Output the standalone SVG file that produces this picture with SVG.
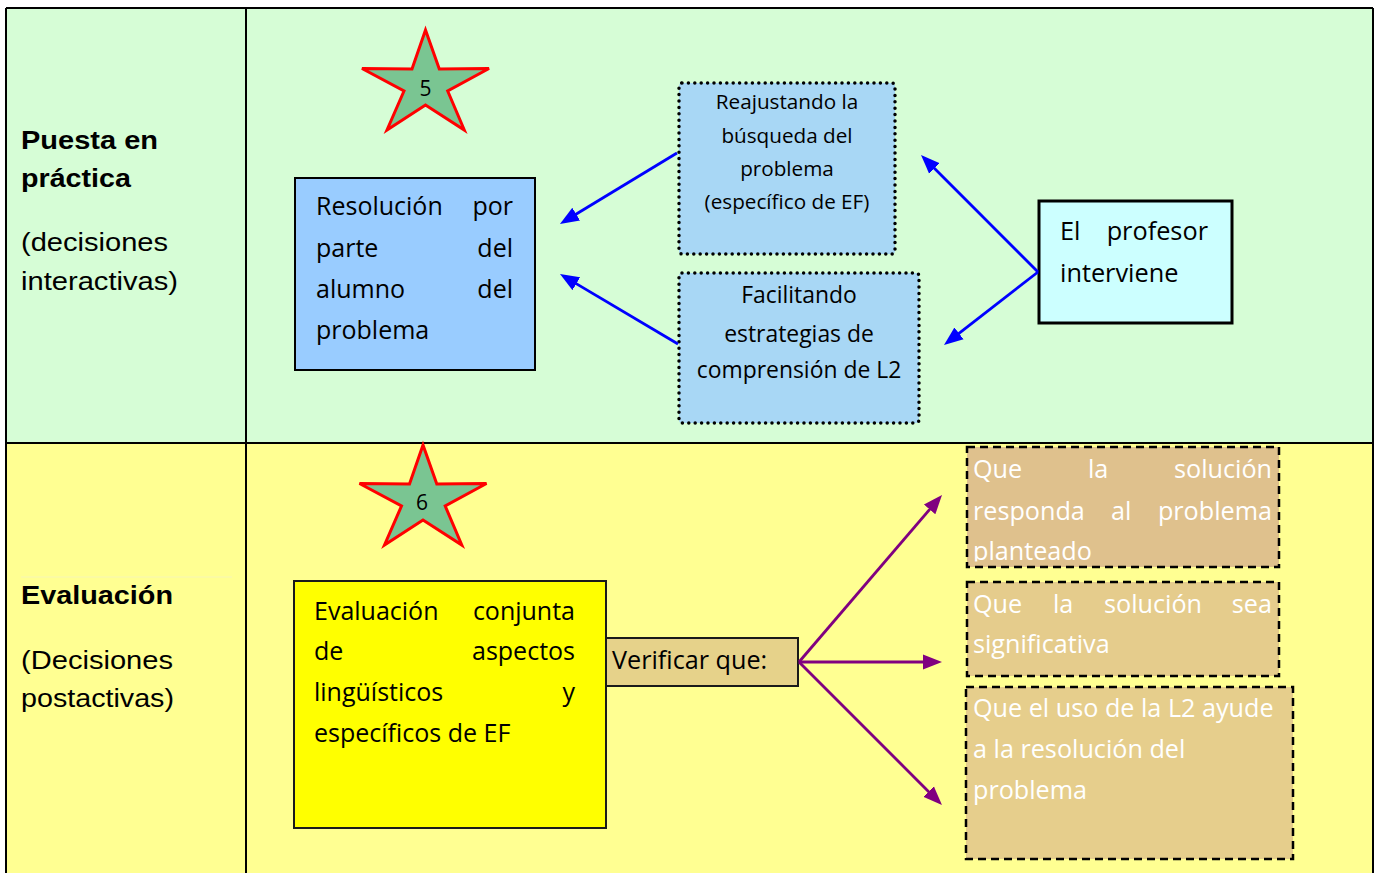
<svg xmlns="http://www.w3.org/2000/svg" width="1374" height="873" viewBox="0 0 1374 873">
<style>
.lbl{font-family:"Liberation Sans",Arial,sans-serif;font-size:26px;fill:#000}
.b{font-weight:bold}
.t{font-family:"Open Sans","Noto Sans",sans-serif;fill:#000}
.w{fill:#FFFFFF}
.grid{stroke:#000;stroke-width:2;fill:none}
.dot{stroke:#000;stroke-width:3.5;stroke-dasharray:0 6.4;stroke-linecap:round}
.dash{stroke:#000;stroke-width:2.5;stroke-dasharray:8 5}
.blue{stroke:#0000FF;stroke-width:2.8;fill:none;marker-end:url(#ab)}
.purp{stroke:#800080;stroke-width:2.8;fill:none;marker-end:url(#ap)}
.star{fill:#7AC592;stroke:#FF0000;stroke-width:3;stroke-linejoin:miter}
</style>
<defs>
<marker id="ab" markerUnits="userSpaceOnUse" markerWidth="22" markerHeight="18" refX="9" refY="9" orient="auto"><path d="M0,1.5 L19,9 L0,16.5 z" fill="#0000FF"/></marker>
<marker id="ap" markerUnits="userSpaceOnUse" markerWidth="22" markerHeight="18" refX="9" refY="9" orient="auto"><path d="M0,1.5 L19,9 L0,16.5 z" fill="#800080"/></marker>
<clipPath id="c1"><rect x="960" y="440" width="330" height="121.5"/></clipPath>
<polygon id="starShape" points="425.5,30 439.3,69 489,68.5 447.7,91 464.3,130 425.5,105 387,130 404,91 362,68.5 412,69"/>
</defs>

<g id="table">
<rect x="6" y="8" width="1367" height="435" fill="#D6FDD6"/>
<rect x="6" y="443" width="1367" height="430" fill="#FFFF92"/>
<line class="grid" x1="6" y1="8" x2="1373" y2="8"/>
<line class="grid" x1="6" y1="443" x2="1373" y2="443"/>
<line class="grid" x1="6" y1="8" x2="6" y2="873"/>
<line class="grid" x1="246" y1="8" x2="246" y2="873"/>
<line class="grid" x1="1373" y1="8" x2="1373" y2="873"/>
<line x1="21" y1="577" x2="232" y2="577" stroke="#F6F6B4" stroke-width="1"/>
</g>

<g id="row1-label">
<text class="lbl b" x="21" y="149" textLength="137" lengthAdjust="spacingAndGlyphs">Puesta en</text>
<text class="lbl b" x="21" y="187" textLength="110" lengthAdjust="spacingAndGlyphs">práctica</text>
<text class="lbl" x="21" y="251" textLength="147" lengthAdjust="spacingAndGlyphs">(decisiones</text>
<text class="lbl" x="21" y="290" textLength="157" lengthAdjust="spacingAndGlyphs">interactivas)</text>
</g>

<g id="row2-label">
<text class="lbl b" x="21" y="604" textLength="152" lengthAdjust="spacingAndGlyphs">Evaluación</text>
<text class="lbl" x="21" y="669" textLength="152" lengthAdjust="spacingAndGlyphs">(Decisiones</text>
<text class="lbl" x="21" y="707" textLength="153" lengthAdjust="spacingAndGlyphs">postactivas)</text>
</g>

<g id="star5">
<use href="#starShape" class="star"/>
<text class="t" x="425.5" y="96" font-size="21" text-anchor="middle">5</text>
</g>

<g id="star6">
<use href="#starShape" class="star" transform="translate(-2.5,415)"/>
<text class="t" x="422" y="510" font-size="21" text-anchor="middle">6</text>
</g>

<g id="resolucion">
<rect x="295" y="178" width="240" height="192" fill="#99CCFF" stroke="#000" stroke-width="2"/>
<g class="t" font-size="25">
<text x="316" y="215">Resolución</text><text x="513" y="215" text-anchor="end">por</text>
<text x="316" y="257">parte</text><text x="513" y="257" text-anchor="end">del</text>
<text x="316" y="298">alumno</text><text x="513" y="298" text-anchor="end">del</text>
<text x="316" y="339">problema</text>
</g>
</g>

<g id="reajustando">
<rect x="679" y="83" width="216" height="171" rx="3" fill="#A8D7F5"/>
<rect class="dot" x="679" y="83" width="216" height="171" rx="3" fill="none"/>
<g class="t" font-size="20.7" text-anchor="middle">
<text x="787" y="109">Reajustando la</text>
<text x="787" y="143">búsqueda del</text>
<text x="787" y="176">problema</text>
<text x="787" y="209">(específico de EF)</text>
</g>
</g>

<g id="facilitando">
<rect x="679" y="273" width="240" height="150" rx="3" fill="#A8D7F5"/>
<rect class="dot" x="679" y="273" width="240" height="150" rx="3" fill="none"/>
<g class="t" font-size="22.9" text-anchor="middle">
<text x="799" y="303">Facilitando</text>
<text x="799" y="342">estrategias de</text>
<text x="799" y="378">comprensión de L2</text>
</g>
</g>

<g id="profesor">
<rect x="1039" y="201" width="193" height="122" fill="#CCFFFF" stroke="#000" stroke-width="3"/>
<g class="t" font-size="25.3">
<text x="1060" y="240">El</text><text x="1208" y="240" text-anchor="end">profesor</text>
<text x="1060" y="282">interviene</text>
</g>
</g>

<g id="evaluacion">
<rect x="294" y="581" width="312" height="247" fill="#FFFF00" stroke="#1A1A1A" stroke-width="2"/>
<g class="t" font-size="25">
<text x="314" y="620">Evaluación</text><text x="575" y="620" text-anchor="end">conjunta</text>
<text x="314" y="660">de</text><text x="575" y="660" text-anchor="end">aspectos</text>
<text x="314" y="701">lingüísticos</text><text x="575" y="701" text-anchor="end">y</text>
<text x="314" y="742">específicos de EF</text>
</g>
</g>

<g id="verificar">
<rect x="606" y="638" width="192" height="48" fill="#E6D28A" stroke="#1A1A1A" stroke-width="2"/>
<text class="t" x="612" y="669" font-size="25.2">Verificar que:</text>
</g>

<g id="cond1">
<rect x="967" y="447" width="312" height="120" fill="#DFC18D"/>
<g class="t w" font-size="25.2" clip-path="url(#c1)">
<text x="973" y="478">Que</text><text x="1088" y="478">la</text><text x="1272" y="478" text-anchor="end">solución</text>
<text x="973" y="520">responda</text><text x="1111" y="520">al</text><text x="1272" y="520" text-anchor="end">problema</text>
<text x="973" y="560">planteado</text>
</g>
<rect class="dash" x="967" y="447" width="312" height="120" fill="none"/>
</g>

<g id="cond2">
<rect x="967" y="582" width="312" height="94" fill="#E5CC8C"/>
<g class="t w" font-size="25.2">
<text x="973" y="613">Que</text><text x="1053" y="613">la</text><text x="1104" y="613">solución</text><text x="1272" y="613" text-anchor="end">sea</text>
<text x="973" y="653">significativa</text>
</g>
<rect class="dash" x="967" y="582" width="312" height="94" fill="none"/>
</g>

<g id="cond3">
<rect x="966" y="687" width="327" height="172" fill="#E6CE8C"/>
<g class="t w" font-size="25.2">
<text x="973" y="717">Que el uso de la L2 ayude</text>
<text x="973" y="758">a la resolución del</text>
<text x="973" y="799">problema</text>
</g>
<rect class="dash" x="966" y="687" width="327" height="172" fill="none"/>
</g>

<g id="connectors">
<line class="blue" x1="677" y1="153" x2="568.5" y2="218.8"/>
<line class="blue" x1="678" y1="344" x2="568.6" y2="279.1"/>
<line class="blue" x1="1038" y1="272" x2="928.1" y2="162.1"/>
<line class="blue" x1="1038" y1="272" x2="951.9" y2="338.9"/>
<line class="purp" x1="799" y1="662" x2="935.5" y2="502.6"/>
<line class="purp" x1="799" y1="662" x2="932" y2="662"/>
<line class="purp" x1="799" y1="662" x2="934.9" y2="797.9"/>
</g>
</svg>
